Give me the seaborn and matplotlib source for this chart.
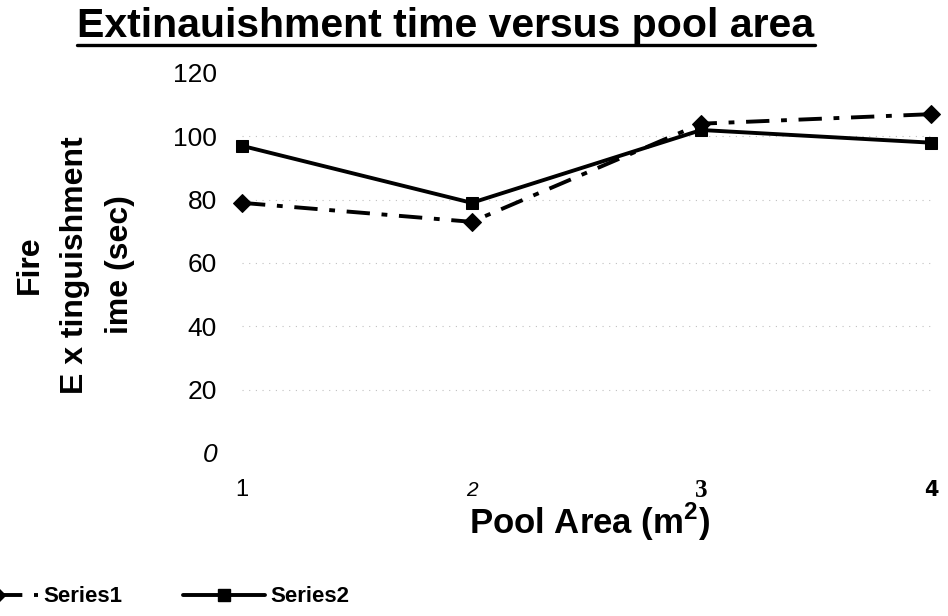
import numpy as np
import pandas as pd
import matplotlib
matplotlib.use("Agg")
import matplotlib.pyplot as plt
from matplotlib.lines import Line2D
import seaborn as sns

# values
pool_area = [1, 2, 3, 4]
series1 = [79, 73, 104, 107]
series2 = [97, 79, 102, 98]
series_names = ["Series1", "Series2"]
y_ticks = [0, 20, 40, 60, 80, 100, 120]
x_tick_labels = ["1", "2", "3", "4"]

df = pd.DataFrame({
    "area": pool_area * 2,
    "time": series1 + series2,
    "series": [series_names[0]] * 4 + [series_names[1]] * 4,
})

sns.set_theme(style="white")
plt.rcParams["font.family"] = ["Liberation Sans", "DejaVu Sans"]
plt.rcParams["text.color"] = "black"
plt.rcParams["axes.labelcolor"] = "black"
plt.rcParams["mathtext.fontset"] = "custom"
plt.rcParams["mathtext.rm"] = "Liberation Sans"
plt.rcParams["mathtext.bf"] = "Liberation Sans:bold"

W, H = 948, 616
fig = plt.figure(figsize=(W / 100, H / 100), dpi=100)
fig.patch.set_facecolor("white")
ax = fig.add_axes([242 / W, 1 - 453 / H, (931 - 242) / W, (453 - 73) / H])

sns.lineplot(data=df, x="area", y="time", style="series", ax=ax,
             color="black", linewidth=2.8,
             markers={"Series1": "D", "Series2": "s"},
             dashes={"Series1": (6, 3, 1.5, 3), "Series2": ""},
             markersize=9, markeredgecolor="black", legend=False)
for ln in ax.lines:
    ln.set_clip_on(False)

ax.set_xlim(1, 4)
ax.set_ylim(0, 120)
ax.set_yticks(y_ticks)
ax.set_xticks(pool_area)
ax.set_xticklabels([])
ax.set_xlabel("")
ax.set_ylabel("")
for s in ax.spines.values():
    s.set_visible(False)
ax.set_facecolor("white")
ax.grid(False)
for yv in y_ticks[1:-1]:
    ax.axhline(yv, color="#c0c0c0", linestyle=(0, (1, 5)), linewidth=0.8, zorder=0)

ax.tick_params(axis="y", length=0, pad=18, labelsize=19, labelcolor="black")
ax.tick_params(axis="x", length=0)
ax.get_yticklabels()[0].set_style("italic")

# each x tick label has its own look in the reference
x_styles = [
    dict(family=["Liberation Sans"], size=17),
    dict(family=["Liberation Sans"], style="italic", size=15),
    dict(family=["Liberation Serif"], weight="bold", size=18),
    dict(family=["DejaVu Sans"], weight="bold", size=15),
]
xaxis_tr = ax.get_xaxis_transform()
for xv, lab, st in zip(pool_area, x_tick_labels, x_styles):
    ax.text(xv, -0.098, lab, transform=xaxis_tr, ha="center", va="center",
            color="black", **st)

# titles and labels
title = fig.text(446 / W, 1 - 26 / H, "Extinauishment time versus pool area",
                 ha="center", va="center", fontsize=29.5, fontweight="bold")
fig.text(75 / W, 1 - 265 / H, "Fire\nE x tinguishment\nime (sec)",
         rotation=90, ha="center", va="center", multialignment="center",
         fontsize=23, fontweight="bold", linespacing=1.65)
fig.text(590 / W, 1 - 522 / H, r"Pool Area (m$^{\mathbf{2}}$)",
         ha="center", va="center", fontsize=25, fontweight="bold")

fig.canvas.draw()
bb = title.get_window_extent()
fig.add_artist(Line2D([bb.x0 / W, bb.x1 / W], [1 - 45 / H, 1 - 45 / H],
                      transform=fig.transFigure, color="black", linewidth=2.4))

handles = [
    Line2D([], [], color="black", linewidth=2.8, linestyle=(0, (6, 3, 1.5, 3)),
           marker="D", markersize=8),
    Line2D([], [], color="black", linewidth=2.8, marker="s", markersize=9),
]
fig.legend(handles, series_names, loc="center left",
           bbox_to_anchor=(-44 / W, 1 - 597 / H), ncol=2, frameon=False,
           borderpad=0, borderaxespad=0, handlelength=3.7, handletextpad=0.25,
           columnspacing=2.7, prop={"size": 16, "weight": "bold"})

fig.savefig("out.png", dpi=100, facecolor="white")
